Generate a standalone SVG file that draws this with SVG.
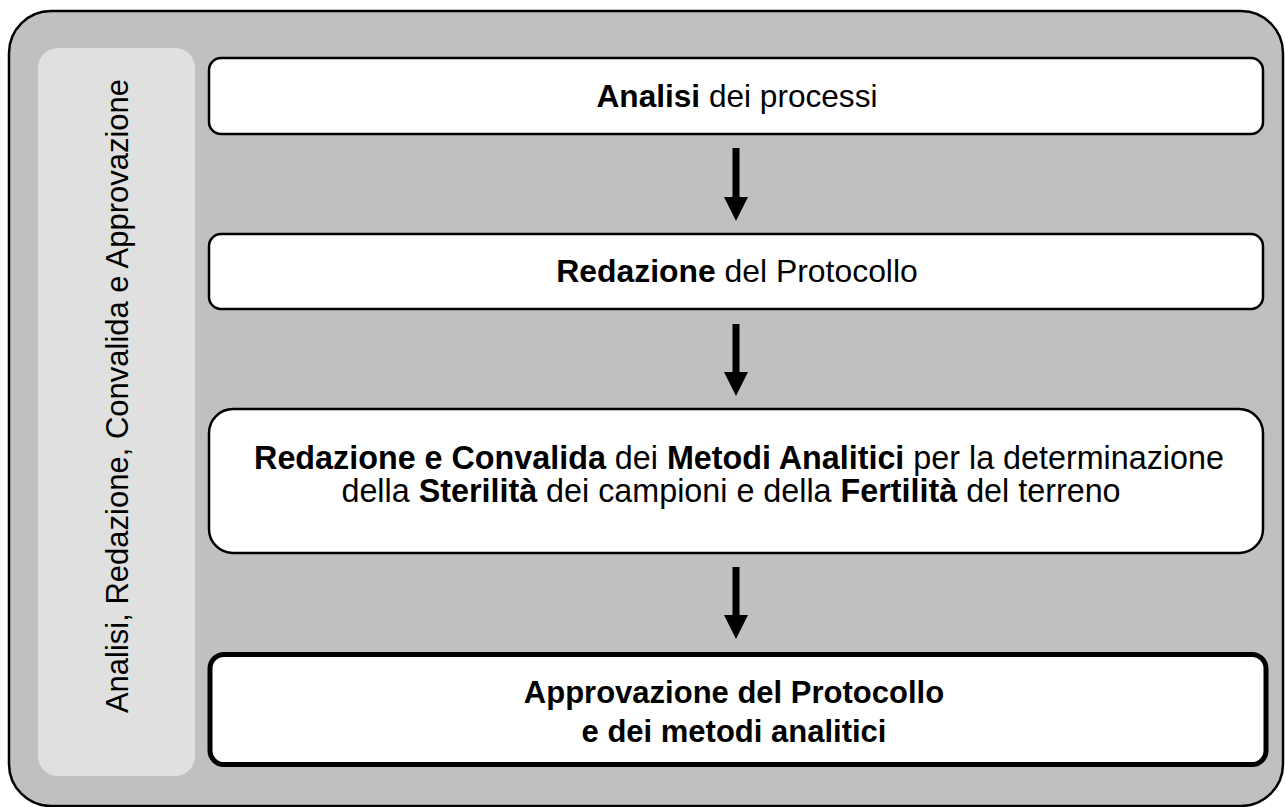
<svg xmlns="http://www.w3.org/2000/svg" width="1285" height="807" viewBox="0 0 1285 807">
<style>
text { font-family: "Liberation Sans", Arial, sans-serif; font-size: 31px; fill: #000; }
.b { font-weight: bold; }
.box { fill: #fff; stroke: #000; stroke-width: 2.5; }
</style>
<defs>
<marker id="ah" markerWidth="24" markerHeight="24" refX="0" refY="12" orient="auto" markerUnits="userSpaceOnUse" viewBox="0 0 24 24">
<path d="M0,0 L24,12 L0,24 Z" fill="#000"/>
</marker>
</defs>
<g id="frame">
<rect x="9" y="11" width="1274" height="795" rx="42" ry="42" fill="#C0C0C0" stroke="#000" stroke-width="2.5"/>
</g>
<g id="side">
<rect x="38" y="48" width="157" height="728" rx="20" ry="20" fill="#E0E0E0"/>
<text transform="translate(128,396) rotate(-90)" text-anchor="middle">Analisi, Redazione, Convalida e Approvazione</text>
</g>
<g id="n1">
<rect class="box" x="209" y="58" width="1054" height="76" rx="12" ry="12"/>
<text x="737" y="107" text-anchor="middle" style="font-size:31.6px"><tspan class="b">Analisi</tspan> dei processi</text>
</g>
<g id="n2">
<rect class="box" x="209" y="234" width="1054" height="75" rx="12" ry="12"/>
<text x="737" y="282" text-anchor="middle" style="font-size:31.9px"><tspan class="b">Redazione</tspan> del Protocollo</text>
</g>
<g id="n3">
<rect class="box" x="209" y="409" width="1054" height="144" rx="24" ry="24"/>
<text x="739" y="469" text-anchor="middle" style="font-size:32.3px"><tspan class="b">Redazione e Convalida</tspan> dei <tspan class="b">Metodi Analitici</tspan> per la determinazione</text>
<text x="731" y="502" text-anchor="middle" style="font-size:32.3px">della <tspan class="b">Sterilità</tspan> dei campioni e della <tspan class="b">Fertilità</tspan> del terreno</text>
</g>
<g id="n4">
<rect x="210" y="654.5" width="1056" height="110" rx="14" ry="14" fill="#fff" stroke="#000" stroke-width="5"/>
<text class="b" x="734" y="703" text-anchor="middle">Approvazione del Protocollo</text>
<text class="b" x="734" y="742" text-anchor="middle">e dei metodi analitici</text>
</g>
<g id="connectors" stroke="#000" stroke-width="7" fill="none">
<line x1="736" y1="148" x2="736" y2="197" marker-end="url(#ah)"/>
<line x1="736" y1="324" x2="736" y2="372" marker-end="url(#ah)"/>
<line x1="736" y1="567" x2="736" y2="615" marker-end="url(#ah)"/>
</g>
</svg>
